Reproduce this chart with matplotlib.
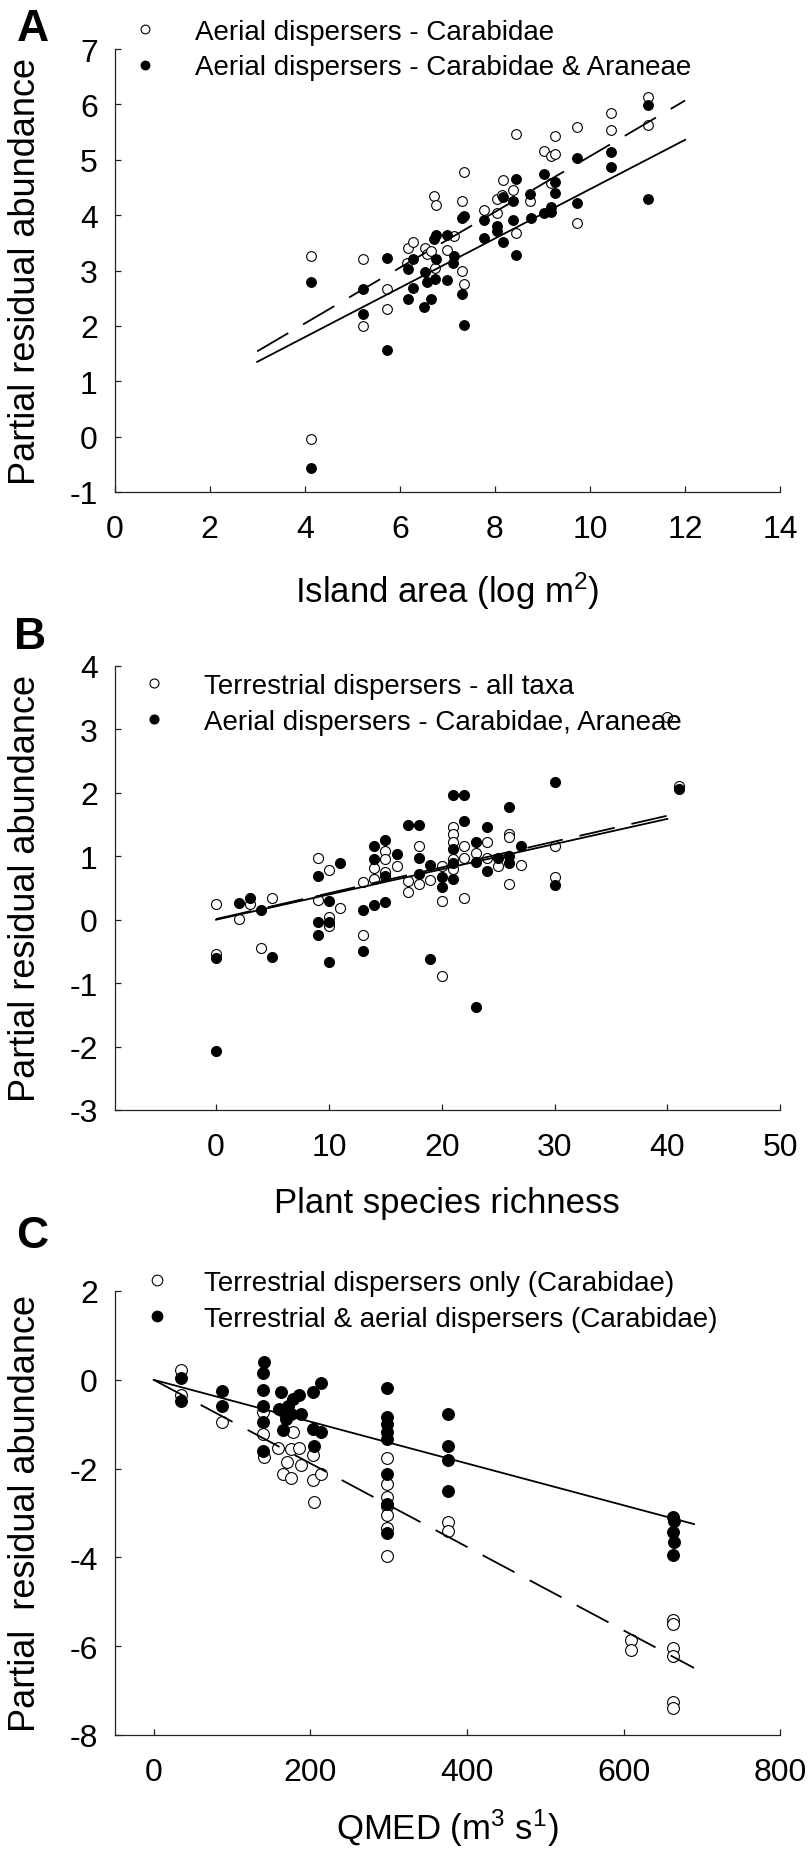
import matplotlib
matplotlib.use("Agg")
import matplotlib.pyplot as plt

plt.rcParams['font.family'] = ['Liberation Sans', 'DejaVu Sans']
plt.rcParams['mathtext.fontset'] = 'custom'
plt.rcParams['mathtext.rm'] = 'Liberation Sans'
plt.rcParams['mathtext.default'] = 'regular'
plt.rcParams['axes.unicode_minus'] = False

# ---- Panel A data: island area ----
a_open_x = [4.14, 4.14, 5.22, 5.22, 5.73, 5.73, 6.17, 6.27, 6.15, 6.53, 6.57, 6.71, 6.77,
            6.65, 6.99, 7.15, 7.30, 7.34, 7.30, 7.34, 7.77, 8.05, 8.04, 8.17, 8.15, 8.39,
            8.44, 8.44, 8.74, 9.03, 9.17, 9.27, 9.27, 9.17, 9.73, 9.73, 10.44, 10.44,
            11.23, 11.23, 6.74]
a_open_y = [3.27, -0.04, 3.20, 1.99, 2.67, 2.31, 3.40, 3.52, 3.14, 3.40, 3.30, 4.34, 4.18,
            3.35, 3.37, 3.62, 4.26, 4.78, 3.00, 2.76, 4.09, 4.04, 4.30, 4.64, 4.37, 4.46,
            5.47, 3.67, 4.25, 5.15, 5.06, 5.11, 5.42, 4.58, 5.59, 3.85, 5.84, 5.53,
            6.13, 5.62, 3.05]
a_fill_x = [4.14, 4.14, 5.22, 5.22, 5.73, 5.73, 6.17, 6.27, 6.27, 6.17, 6.51, 6.65, 6.53,
            6.57, 6.74, 6.76, 6.71, 6.77, 6.99, 6.99, 7.15, 7.12, 7.30, 7.34, 7.30, 7.34,
            7.77, 7.77, 8.05, 8.05, 8.17, 8.17, 8.39, 8.39, 8.44, 8.44, 8.74, 8.76, 9.03,
            9.03, 9.19, 9.19, 9.27, 9.27, 9.73, 9.73, 10.44, 10.44, 11.23, 11.23]
a_fill_y = [2.79, -0.56, 2.66, 2.21, 3.22, 1.56, 3.03, 3.21, 2.69, 2.49, 2.34, 2.49, 2.97,
            2.79, 2.85, 3.21, 3.56, 3.64, 3.65, 2.83, 3.26, 3.14, 3.95, 3.98, 2.58, 2.02,
            3.91, 3.58, 3.80, 3.72, 3.52, 4.32, 4.25, 3.92, 4.66, 3.28, 4.39, 3.95, 4.75,
            4.03, 4.15, 4.05, 4.60, 4.40, 5.03, 4.21, 5.14, 4.87, 5.98, 4.29]
a_line_x = [3.0, 12.0]
a_dash_y = [1.54, 6.07]
a_solid_y = [1.35, 5.36]

# ---- Panel B data: plant species richness ----
b_open_x = [0, 0, 2, 3, 4, 5, 9, 9, 10, 10, 10, 11, 13, 13, 14, 14, 15, 15, 15, 16, 17, 17,
            18, 18, 19, 20, 20, 20, 21, 21, 21, 21, 21, 22, 22, 22, 23, 24, 24, 25, 26, 26,
            26, 27, 30, 30, 40, 41]
b_open_y = [0.25, -0.54, 0.01, 0.25, -0.45, 0.34, 0.98, 0.31, 0.78, 0.05, -0.10, 0.18, 0.59,
            -0.24, 0.82, 0.64, 1.09, 0.95, 0.75, 0.85, 0.61, 0.43, 1.17, 0.56, 0.63, 0.85,
            0.29, -0.88, 1.46, 1.35, 1.22, 0.96, 0.80, 1.17, 0.98, 0.34, 1.05, 1.23, 0.98,
            0.84, 1.35, 1.30, 0.57, 0.86, 1.17, 0.67, 3.20, 2.11]
b_fill_x = [0, 0, 2, 3, 4, 5, 9, 9, 9, 10, 10, 10, 11, 13, 13, 14, 14, 14, 15, 15, 15, 16,
            17, 18, 18, 18, 19, 19, 20, 20, 21, 21, 21, 21, 22, 22, 23, 23, 23, 24, 24, 25,
            26, 26, 26, 27, 30, 30, 41]
b_fill_y = [-0.60, -2.07, 0.27, 0.35, 0.16, -0.58, 0.69, -0.04, -0.24, 0.30, -0.04, -0.66,
            0.89, 0.16, -0.50, 1.16, 0.96, 0.23, 1.26, 0.69, 0.28, 1.03, 1.50, 1.50, 0.98,
            0.72, 0.87, -0.62, 0.68, 0.52, 1.97, 1.12, 0.89, 0.64, 1.97, 1.56, 1.23, 0.91,
            -1.37, 1.46, 0.77, 0.98, 1.78, 1.00, 0.90, 1.17, 2.17, 0.55, 2.06]
b_line_x = [0.0, 40.0]
b_dash_y = [0.01, 1.64]
b_solid_y = [0.0, 1.59]

# ---- Panel C data: QMED ----
c_open_x = [35, 35, 87, 139, 139, 141, 159, 165, 170, 176, 178, 175, 186, 188, 204, 204, 205,
            214, 298, 298, 298, 298, 298, 298, 298, 376, 376, 609, 609, 663, 663, 663, 663,
            663, 663]
c_open_y = [0.21, -0.35, -0.94, -0.73, -1.21, -1.74, -1.54, -2.13, -1.85, -2.21, -1.18, -1.55,
            -1.54, -1.93, -1.70, -2.26, -2.75, -2.13, -1.76, -2.34, -2.64, -2.84, -3.05, -3.33,
            -3.96, -3.20, -3.41, -5.86, -6.08, -5.41, -5.50, -6.03, -6.23, -7.26, -7.39]
c_fill_x = [35, 35, 87, 87, 141, 139, 139, 139, 139, 139, 163, 160, 166, 172, 169, 175, 165,
            178, 186, 188, 204, 204, 205, 214, 214, 298, 298, 298, 298, 298, 298, 298, 298,
            376, 376, 376, 376, 663, 665, 663, 665, 663]
c_fill_y = [0.04, -0.48, -0.26, -0.59, 0.40, 0.15, -0.22, -0.58, -0.94, -1.61, -0.28, -0.65,
            -0.73, -0.58, -0.88, -0.76, -1.14, -0.43, -0.34, -0.76, -0.28, -1.10, -1.48, -0.07,
            -1.18, -0.18, -0.84, -0.99, -1.18, -1.34, -2.13, -2.79, -3.46, -0.76, -1.48, -1.80,
            -2.51, -3.09, -3.18, -3.42, -3.65, -3.95]
c_line_x = [0.0, 690.0]
c_dash_y = [0.0, -6.49]
c_solid_y = [0.0, -3.25]

panels = [
    dict(letter='A', ox=a_open_x, oy=a_open_y, fx=a_fill_x, fy=a_fill_y,
         lx=a_line_x, dy=a_dash_y, sy=a_solid_y,
         labels=['Aerial dispersers - Carabidae', 'Aerial dispersers - Carabidae & Araneae'],
         xlabel='Island area (log m$^2$)', ylabel='Partial residual abundance',
         xlim=(0, 14), xticks=range(0, 15, 2), ylim=(-1, 7), yticks=range(-1, 8),
         top=50, bottom=493, leg=(0.025, 1.068), tpad=1.31, xlab_y=-0.248, ms=7,
         letter_xy=(33, 29.5)),
    dict(letter='B', ox=b_open_x, oy=b_open_y, fx=b_fill_x, fy=b_fill_y,
         lx=b_line_x, dy=b_dash_y, sy=b_solid_y,
         labels=['Terrestrial dispersers - all taxa', 'Aerial dispersers - Carabidae, Araneae'],
         xlabel='Plant species richness', ylabel='Partial residual abundance',
         xlim=(-9, 50), xticks=range(0, 51, 10), ylim=(-3, 4), yticks=range(-3, 5),
         top=667, bottom=1111, leg=(0.039, 0.984), tpad=1.29, xlab_y=-0.229, ms=7.2,
         letter_xy=(30, 637.5)),
    dict(letter='C', ox=c_open_x, oy=c_open_y, fx=c_fill_x, fy=c_fill_y,
         lx=c_line_x, dy=c_dash_y, sy=c_solid_y,
         labels=['Terrestrial dispersers only (Carabidae)',
                 'Terrestrial & aerial dispersers (Carabidae)'],
         xlabel='QMED (m$^3$ s$^1$)', ylabel='Partial  residual abundance',
         xlim=(-50, 800), xticks=range(0, 801, 200), ylim=(-8, 2), yticks=range(-8, 3, 2),
         top=1292, bottom=1736, leg=(0.0425, 1.047), tpad=1.21, xlab_y=-0.234, ms=8.5,
         letter_xy=(32, 1236.5)),
]

W, H = 811, 1856
left, right = 114.5, 780.2
fig = plt.figure(figsize=(W / 100, H / 100), dpi=100)

for p in panels:
    h = p['bottom'] - p['top']
    ax = fig.add_axes([left / W, 1 - p['bottom'] / H, (right - left) / W, h / H])

    h1, = ax.plot(p['ox'], p['oy'], 'o', ls='none', mfc='white', mec='black',
                  ms=p['ms'], mew=0.8, label=p['labels'][0], zorder=2)
    h2, = ax.plot(p['fx'], p['fy'], 'o', ls='none', mfc='black', mec='black',
                  ms=p['ms'], mew=0.8, label=p['labels'][1], zorder=3)
    ax.plot(p['lx'], p['dy'], color='black', lw=1.3, dashes=(20, 9.5), zorder=4)
    ax.plot(p['lx'], p['sy'], color='black', lw=1.3, zorder=4)

    ax.set_xlim(*p['xlim'])
    ax.set_ylim(*p['ylim'])
    ax.set_xticks(list(p['xticks']))
    ax.set_yticks(list(p['yticks']))

    for s in ['top', 'right']:
        ax.spines[s].set_visible(False)
    for s in ['left', 'bottom']:
        ax.spines[s].set_linewidth(0.9)
        ax.spines[s].set_color('#222222')

    ax.tick_params(axis='x', direction='in', length=4, width=0.9, color='#222222',
                   pad=16, labelsize=23)
    ax.tick_params(axis='y', direction='in', length=4, width=0.9, color='#222222',
                   pad=12, labelsize=23)

    ax.set_xlabel(p['xlabel'], fontsize=25, va='baseline')
    ax.xaxis.set_label_coords(0.5, p['xlab_y'])
    ax.set_ylabel(p['ylabel'], fontsize=26, va='center')
    ax.yaxis.set_label_coords(-0.1337, 0.5)

    ax.legend(handles=[h1, h2], loc='upper left', bbox_to_anchor=p['leg'], frameon=False,
              fontsize=20, borderpad=0, borderaxespad=0, handlelength=1.0,
              handletextpad=p['tpad'], labelspacing=0.34, markerscale=0.9)

    fig.text(p['letter_xy'][0] / W, 1 - p['letter_xy'][1] / H, p['letter'],
             fontsize=32, fontweight='bold', ha='center', va='center')

fig.savefig('out.png', dpi=100)
